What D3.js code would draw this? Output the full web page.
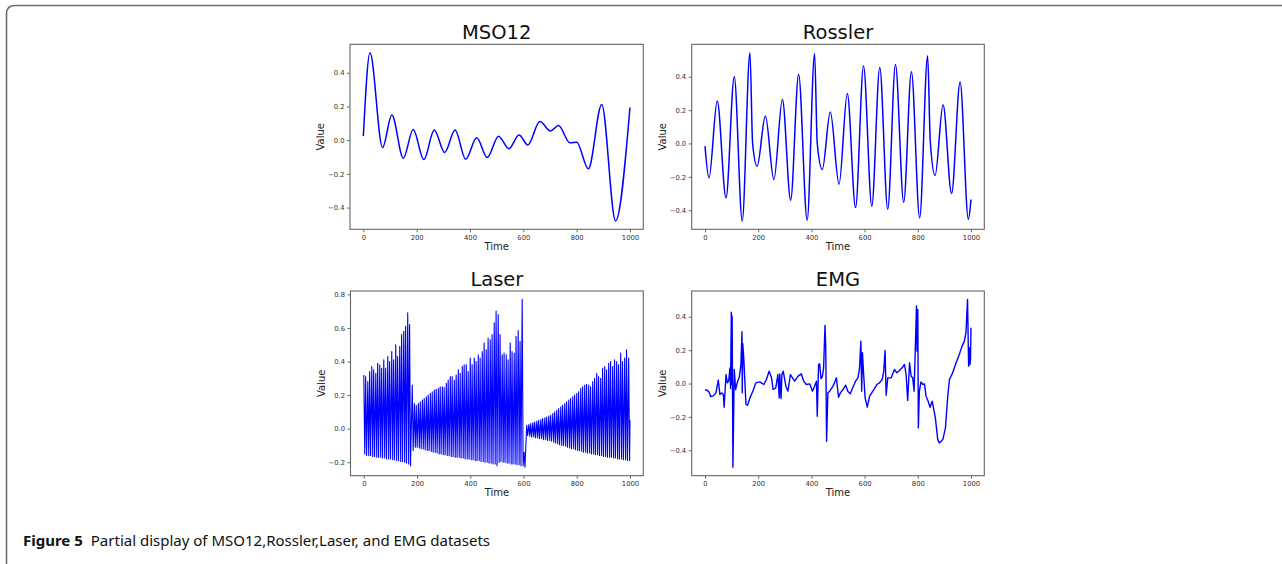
<!DOCTYPE html>
<html>
<head>
<meta charset="utf-8">
<script src="https://cdn.jsdelivr.net/npm/d3@7"></script>
<style>
  html, body { margin: 0; padding: 0; background: #fff; }
  svg { display: block; }
</style>
</head>
<body>
<svg id="chart" width="1282" height="564"></svg>
<script>
// ---------------- DATA ----------------
const xTicks = [0, 200, 400, 600, 800, 1000];

// MSO12: turning points (time, value)
const msoTime  = [0, 25, 72, 107, 150, 187, 227, 266, 305, 344, 384, 425, 465, 507, 546, 584, 617, 662, 702, 732, 775, 800, 844, 894, 946, 1000];
const msoValue = [0.024, 0.519, -0.044, 0.150, -0.107, 0.063, -0.115, 0.060, -0.073, 0.060, -0.113, 0.014, -0.103, 0.024, -0.051, 0.030, -0.028, 0.111, 0.055, 0.087, -0.016, -0.012, -0.170, 0.212, -0.479, 0.194];
const msoYTicks = [-0.4, -0.2, 0.0, 0.2, 0.4];

// Rossler: turning points (time, value)
const rosTime  = [0, 15, 46, 79, 110, 140, 169, 179, 196, 227, 259, 291, 322, 352, 384, 412, 422, 441, 471, 504, 535, 566, 596, 627, 657, 687, 716, 747, 776, 807, 837, 847, 865, 895, 927, 959, 990, 1000];
const rosValue = [-0.016, -0.206, 0.254, -0.326, 0.400, -0.464, 0.544, 0.000, -0.136, 0.164, -0.216, 0.264, -0.340, 0.414, -0.460, 0.540, 0.000, -0.156, 0.188, -0.244, 0.300, -0.384, 0.464, -0.376, 0.456, -0.394, 0.474, -0.352, 0.430, -0.446, 0.526, 0.010, -0.192, 0.232, -0.300, 0.368, -0.454, -0.336];
const rosYTicks = [-0.4, -0.2, 0.0, 0.2, 0.4];

// Laser: one spike per pulsation cycle: cycle time, spike top, following trough
const laserTime = [
  0, 7, 15, 22, 30, 37, 45, 52, 60, 67, 75, 82, 90, 97, 105, 112, 120, 127, 135, 142, 150, 157, 165, 172,
  182, 190, 197, 205, 212, 220, 227, 235, 242, 250, 257, 265, 272, 280, 287, 295, 302, 310, 317, 325, 332, 340, 347, 355, 362, 370,
  377, 385, 392, 400, 407, 415, 422, 430, 437, 445, 452, 460, 467, 475, 482, 490, 497, 505, 512, 520, 527, 535, 542, 550, 557, 565,
  572, 580, 587, 595, 602,
  612, 620, 627, 635, 642, 650, 657, 665, 672, 680, 687, 695, 702, 710, 717, 725, 732, 740, 747, 755, 762, 770, 777, 785, 792, 800,
  807, 815, 822, 830, 837, 845, 852, 860, 867, 875, 882, 890, 897, 905, 912, 920, 927, 935, 942, 950, 957, 965, 972, 980, 987, 995, 1000
];
const laserPeak = [
  0.32, 0.31, 0.28, 0.34, 0.37, 0.35, 0.33, 0.39, 0.38, 0.36, 0.41, 0.36, 0.43, 0.40, 0.46, 0.41, 0.50, 0.43, 0.49, 0.56, 0.58, 0.61, 0.69, 0.62,
  0.26, 0.15, 0.14, 0.15, 0.16, 0.17, 0.18, 0.19, 0.20, 0.21, 0.22, 0.23, 0.235, 0.24, 0.25, 0.25, 0.245, 0.27, 0.29, 0.31, 0.31, 0.29, 0.32, 0.35, 0.33, 0.37,
  0.38, 0.38, 0.34, 0.42, 0.38, 0.42, 0.40, 0.44, 0.42, 0.46, 0.51, 0.47, 0.54, 0.53, 0.56, 0.63, 0.70, 0.68, 0.56, 0.44, 0.45, 0.44, 0.41, 0.51, 0.46, 0.45,
  0.55, 0.585, 0.52, 0.77, -0.14,
  0.02, 0.025, 0.03, 0.035, 0.04, 0.045, 0.05, 0.055, 0.06, 0.065, 0.07, 0.075, 0.08, 0.09, 0.10, 0.11, 0.12, 0.13, 0.14, 0.15, 0.16, 0.17, 0.18, 0.19, 0.20, 0.21,
  0.22, 0.24, 0.25, 0.26, 0.265, 0.26, 0.25, 0.28, 0.30, 0.33, 0.31, 0.30, 0.36, 0.37, 0.35, 0.39, 0.40, 0.37, 0.41, 0.40, 0.38, 0.45, 0.40, 0.42, 0.47, 0.42, 0.05
];
const laserTrough = [
  -0.15, -0.16, -0.16, -0.16, -0.165, -0.165, -0.17, -0.17, -0.17, -0.175, -0.175, -0.18, -0.18, -0.18, -0.185, -0.185, -0.19, -0.19, -0.195, -0.195, -0.20, -0.205, -0.21, -0.22,
  -0.13, -0.11, -0.11, -0.115, -0.12, -0.12, -0.125, -0.13, -0.13, -0.135, -0.14, -0.14, -0.145, -0.15, -0.15, -0.155, -0.155, -0.16, -0.16, -0.165, -0.165, -0.17, -0.17, -0.17, -0.175, -0.175,
  -0.18, -0.18, -0.18, -0.185, -0.185, -0.19, -0.19, -0.19, -0.195, -0.195, -0.20, -0.20, -0.205, -0.205, -0.21, -0.21, -0.22, -0.20, -0.195, -0.20, -0.20, -0.205, -0.205, -0.21, -0.21, -0.21,
  -0.215, -0.215, -0.22, -0.22, -0.23,
  -0.04, -0.045, -0.05, -0.05, -0.055, -0.055, -0.06, -0.06, -0.065, -0.065, -0.07, -0.07, -0.075, -0.08, -0.085, -0.09, -0.095, -0.10, -0.10, -0.105, -0.11, -0.115, -0.12, -0.12, -0.125, -0.13,
  -0.13, -0.135, -0.14, -0.14, -0.145, -0.145, -0.15, -0.15, -0.155, -0.155, -0.16, -0.16, -0.165, -0.165, -0.17, -0.17, -0.17, -0.175, -0.175, -0.18, -0.18, -0.18, -0.185, -0.185, -0.19, -0.19
];
const laserYTicks = [-0.2, 0.0, 0.2, 0.4, 0.6, 0.8];

// EMG: traced samples (time, value)
const emgTime = [0, 6, 15, 21, 31, 41, 50, 56, 62, 69, 72, 79, 84, 89, 94, 96, 99, 101, 102, 105, 110, 115, 122, 129, 135, 139, 140, 142, 146, 154,
  160, 169, 181, 191, 206, 221, 231, 241, 250, 256, 266, 274, 279, 281, 286, 289, 294, 304, 312, 321, 329, 337, 350, 362, 371, 381, 394, 404, 412, 419,
  422, 427, 431, 436, 441, 446, 451, 454, 457, 462, 469, 479, 487, 494, 502, 509, 519, 529, 537, 546, 556, 566, 575, 581, 586, 589, 592, 596, 602, 610,
  619, 629, 637, 646, 656, 666, 672, 677, 681, 687, 700, 712, 721, 731, 741, 750, 756, 762, 769, 775, 781, 786, 791, 795, 797, 800, 802, 806, 812, 819,
  825, 831, 839, 846, 854, 859, 866, 875, 881, 894, 904, 912, 919, 931, 944, 956, 965, 975, 981, 987, 991, 994, 996, 998, 1000];
const emgValue = [-0.040, -0.038, -0.050, -0.078, -0.074, -0.056, 0.020, -0.066, -0.056, -0.066, -0.142, 0.054, 0.004, 0.014, 0.094, -0.030, 0.428, -0.006, 0.404, -0.502, 0.084, -0.036, 0.010, 0.038, 0.114, 0.310, -0.056, 0.238, 0.144, -0.126,
  -0.130, -0.086, -0.042, 0.004, 0.010, -0.006, 0.024, 0.074, 0.034, -0.036, -0.026, 0.054, -0.086, 0.058, -0.090, 0.054, 0.074, -0.016, -0.046, 0.054, 0.034, 0.014, 0.044, 0.058, 0.014, -0.006, -0.002, -0.046, -0.016, 0.014,
  -0.196, 0.114, 0.118, 0.030, 0.040, 0.094, 0.348, 0.214, -0.346, -0.056, -0.046, -0.022, 0.004, 0.034, -0.082, -0.056, -0.036, -0.010, -0.046, -0.062, -0.022, 0.014, 0.034, 0.094, 0.254, -0.046, 0.184, 0.064, -0.086, -0.142,
  -0.076, -0.050, -0.030, -0.006, 0.004, 0.024, 0.074, 0.198, -0.070, 0.034, 0.034, 0.084, 0.064, 0.078, 0.094, 0.114, 0.054, -0.102, 0.124, 0.044, 0.034, -0.046, 0.230, 0.464, 0.194, 0.444, -0.266, -0.046, 0.010, -0.006,
  -0.002, -0.076, -0.106, -0.142, -0.106, -0.146, -0.206, -0.336, -0.356, -0.336, -0.266, -0.086, 0.024, 0.064, 0.124, 0.174, 0.218, 0.254, 0.304, 0.504, 0.104, 0.214, 0.114, 0.140, 0.334];
const emgYTicks = [-0.4, -0.2, 0.0, 0.2, 0.4];

const captionBold = "Figure 5";
const captionText = "Partial display of MSO12,Rossler,Laser, and EMG datasets";

// ---------------- BUILD ----------------
const svg = d3.select("#chart");
const BLUE = "#0000ff";

// outer figure frame (rounded top-left, open at bottom)
svg.append("path")
  .attr("d", "M6.5,566 L6.5,14 Q6.5,5.5 15,5.5 L1284,5.5")
  .attr("fill", "none").attr("stroke", "#6e6e6e").attr("stroke-width", 1.6);

const msoPts = msoTime.map((t, i) => [t, msoValue[i]]);
const rosPts = rosTime.map((t, i) => [t, rosValue[i]]);
const laserPts = [];
laserTime.forEach((t, i) => {
  laserPts.push([t, laserPeak[i]]);
  if (i < laserTrough.length) laserPts.push([t + 3.5, laserTrough[i]]);
});
const emgPts = emgTime.map((t, i) => [t, emgValue[i]]);

const panels = [
  { title: "MSO12",   pts: msoPts,   ticks: msoYTicks,   curve: d3.curveMonotoneX, box: { l: 350,   r: 643.3, t: 44.3, b: 229.3 }, lw: 1.5 },
  { title: "Rossler", pts: rosPts,   ticks: rosYTicks,   curve: d3.curveMonotoneX, box: { l: 691.7, r: 984.3, t: 44.3, b: 229.3 }, lw: 1.5 },
  { title: "Laser",   pts: laserPts, ticks: laserYTicks, curve: d3.curveLinear,    box: { l: 350.5, r: 643.3, t: 291,  b: 475.7 }, lw: 1.1 },
  { title: "EMG",     pts: emgPts,   ticks: emgYTicks,   curve: d3.curveLinear,    box: { l: 691.7, r: 984.3, t: 291,  b: 475.7 }, lw: 1.4 }
];

const fmtY = d3.format(".1f");

panels.forEach(p => {
  const b = p.box;
  const xExt = [0, 1000];
  const yExt = d3.extent(p.pts, d => d[1]);
  const xPad = (xExt[1] - xExt[0]) * 0.05, yPad = (yExt[1] - yExt[0]) * 0.05;
  const x = d3.scaleLinear().domain([xExt[0] - xPad, xExt[1] + xPad]).range([b.l, b.r]);
  const y = d3.scaleLinear().domain([yExt[0] - yPad, yExt[1] + yPad]).range([b.b, b.t]);

  const g = svg.append("g");

  const cid = "clip-" + p.title;
  svg.append("clipPath").attr("id", cid).append("rect")
    .attr("x", b.l).attr("y", b.t).attr("width", b.r - b.l).attr("height", b.b - b.t);

  g.append("path")
    .datum(p.pts)
    .attr("clip-path", `url(#${cid})`)
    .attr("fill", "none")
    .attr("stroke", BLUE)
    .attr("stroke-width", p.lw)
    .attr("stroke-linejoin", "round")
    .attr("d", d3.line().x(d => x(d[0])).y(d => y(d[1])).curve(p.curve));

  const xAxis = d3.axisBottom(x).tickValues(xTicks).tickFormat(d3.format("d")).tickSize(3).tickPadding(2.5);
  const yAxis = d3.axisLeft(y).tickValues(p.ticks).tickFormat(fmtY).tickSize(3).tickPadding(2.5);

  const gx = g.append("g").attr("transform", `translate(0,${b.b})`).call(xAxis);
  const gy = g.append("g").attr("transform", `translate(${b.l},0)`).call(yAxis);
  [gx, gy].forEach(a => {
    a.select(".domain").remove();
    a.selectAll(".tick line").attr("stroke", "#444").attr("stroke-width", 0.8);
    a.selectAll(".tick text").attr("fill", "#333").style("font-family", "DejaVu Sans").style("font-size", "6.8px");
  });

  g.append("rect")
    .attr("x", b.l).attr("y", b.t).attr("width", b.r - b.l).attr("height", b.b - b.t)
    .attr("fill", "none").attr("stroke", "#666").attr("stroke-width", 1.1);

  g.append("text")
    .attr("x", (b.l + b.r) / 2).attr("y", b.t - 5)
    .attr("text-anchor", "middle")
    .style("font-family", "DejaVu Sans").style("font-size", "19.5px").attr("fill", "#111")
    .text(p.title);

  g.append("text")
    .attr("x", (b.l + b.r) / 2).attr("y", b.b + 20.5)
    .attr("text-anchor", "middle")
    .style("font-family", "DejaVu Sans").style("font-size", "10px").attr("fill", "#222")
    .text("Time");
  g.append("text")
    .attr("transform", `translate(${b.l - 26},${(b.t + b.b) / 2}) rotate(-90)`)
    .attr("text-anchor", "middle")
    .style("font-family", "DejaVu Sans").style("font-size", "10px").attr("fill", "#222")
    .text("Value");
});

// caption
const cap = svg.append("text")
  .attr("x", 23).attr("y", 546)
  .style("font-family", "'Noto Sans'").style("font-size", "15px").attr("fill", "#111");
cap.append("tspan").style("font-weight", "bold").text(captionBold);
cap.append("tspan").attr("dx", 8).text(captionText);
</script>
</body>
</html>
